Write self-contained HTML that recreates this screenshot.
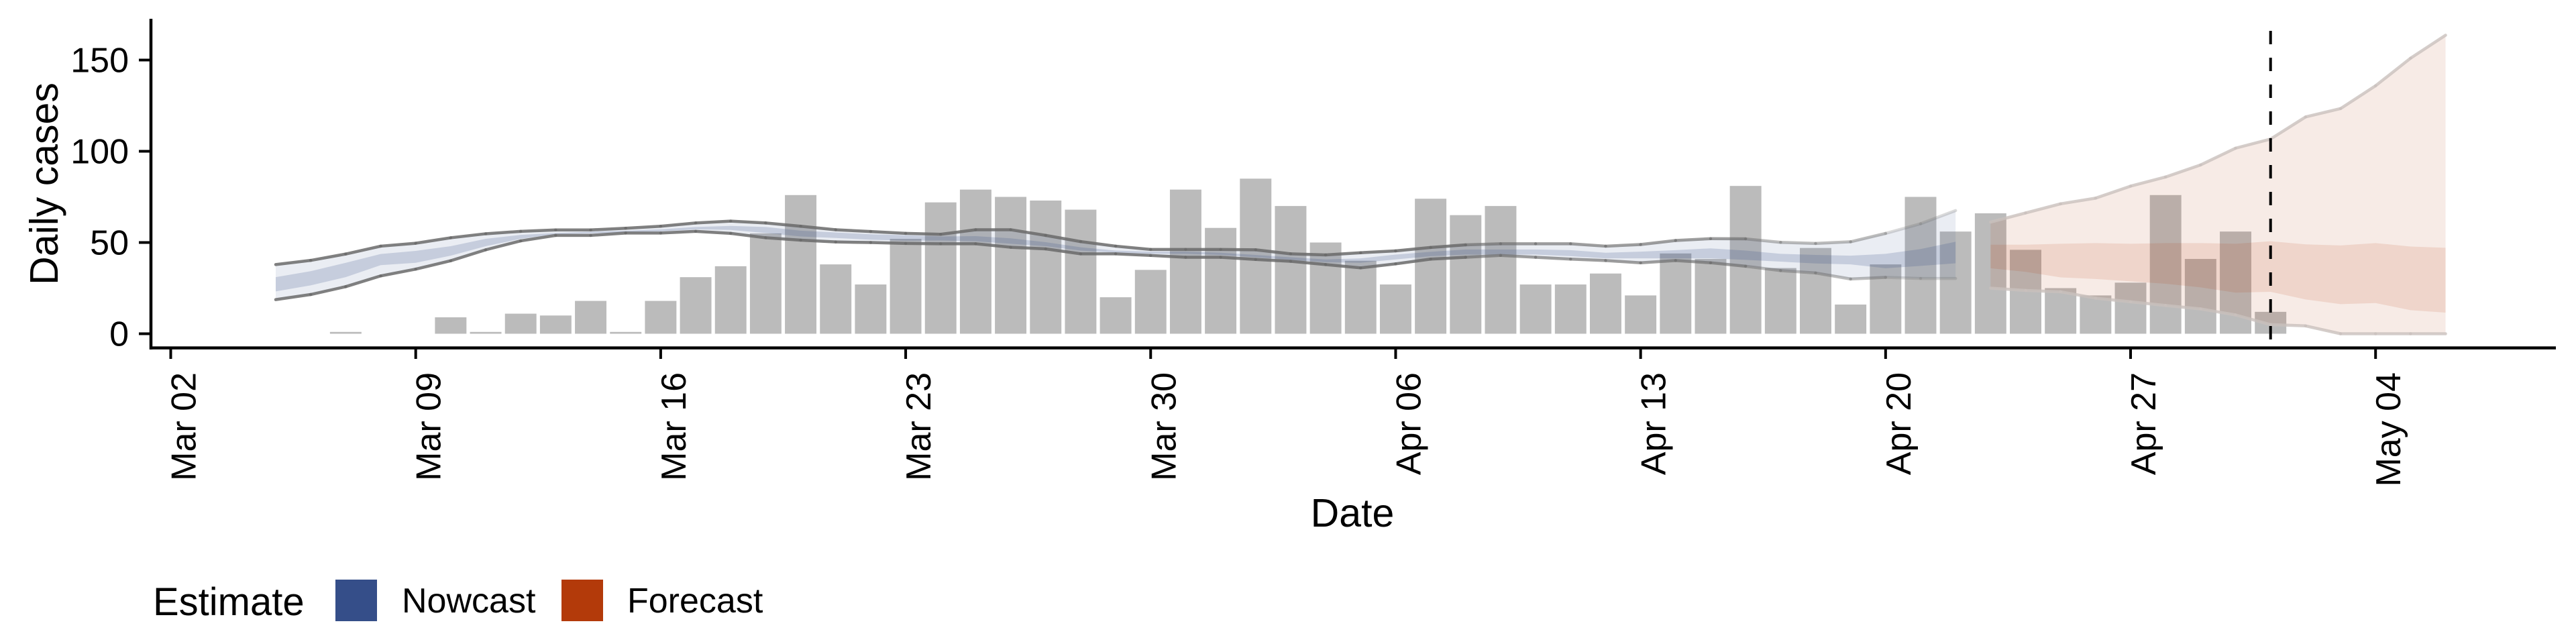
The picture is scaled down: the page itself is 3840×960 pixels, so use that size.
<!DOCTYPE html>
<html><head><meta charset="utf-8"><style>
html,body{margin:0;padding:0;background:#fff;}
svg{display:block;font-family:"Liberation Sans",Arial,sans-serif;}
</style></head><body>
<svg id="chart" width="3840" height="960" viewBox="0 0 3840 960" xmlns="http://www.w3.org/2000/svg">
<rect x="0" y="0" width="3840" height="960" fill="#fff"/>
<g id="bars"></g>
<g id="bands"></g>
<g id="lines"></g>
<g id="axes"></g>
<text x="86" y="274" transform="rotate(-90 86 274)" text-anchor="middle" font-size="59">Daily cases</text>
<text x="2016" y="785" text-anchor="middle" font-size="59">Date</text>
<g>
<text x="228" y="917" font-size="58">Estimate</text>
<rect x="500" y="864" width="62" height="62" fill="#354E89"/>
<text x="599" y="913" font-size="52">Nowcast</text>
<rect x="837" y="864" width="62" height="62" fill="#B33A0A"/>
<text x="935" y="913" font-size="52">Forecast</text>
</g>
</svg>
<script>
// day index = days since Mar 02
const barStart = 5;
const barValues = [1,0,0,9,1,11,10,18,1,18,31,37,55,76,38,27,52,72,
79,75,73,68,20,35,79,58,85,70,50,40,27,74,65,70,27,27,33,21,44,41,81,36,47,16,
38,75,56,66,46,25,21,28,76,41,56,12];
const nowStart = 3;
const nowUpper = [37.9,40.2,43.7,48,49.6,52.6,54.8,56.1,56.9,56.9,57.8,58.9,60.7,61.7,60.7,58.9,57,56,55,54.5,
57,57,53.9,50.5,48,46.2,46.2,46.2,46,43.8,43.2,44.4,45.4,47.3,48.7,49.3,49.3,49.3,48,48.9,51.1,52.1,52,50.1,
49.5,50.4,55,60.3,67.5];
const nowLower = [18.7,21.5,25.8,31.7,35.4,40,46,50.9,53.9,53.9,55.2,55.2,56.1,55,52.6,51.3,50.3,50,49.5,49.3,
49.3,47.4,46.5,43.8,43.8,42.9,41.9,41.9,40.7,39.7,37.9,36.1,38.3,40.9,41.9,42.9,41.9,40.9,40.1,38.9,40.1,38.9,37,34.6,
33.3,30,30.9,30.3,30.3];
const nowInnerUpper = [31,34.3,38.9,43.7,45.4,48,52,54.2,55.2,55.9,56.5,57.2,58.5,59.1,58.5,56.5,55.5,54.5,54,53.3,
53.5,52.3,50.2,47.4,45.6,45,45,44.4,43.2,41.9,40.7,41.3,43.4,44.9,46.2,46.2,46.2,45.8,44.4,45,45.8,46.8,45.6,43.8,
43.2,42.8,43.8,46.4,50.4];
const nowInnerLower = [23.2,26.5,31,37.6,38.9,42.8,48,52,54.6,55,55.5,56.1,57.2,56.9,55.2,53.3,52.5,51.5,51,51.1,
50.7,49.3,48,45.6,44.4,43.8,43.8,43.2,41.9,40.5,39.2,38.9,40.7,42.5,43.4,43.4,43.4,42.5,41.3,41.3,41.3,41.3,40.5,39.5,
38.5,38,35.9,37.2,38.6];
const foreStart = 52;
const foreUpper = [61.2,66.2,71.2,74.3,80.9,85.9,92.5,101.7,106.7,118.8,123.4,135.9,151,163.6];
const foreLower = [25,23.7,23,19.5,17.5,15.5,13.6,10.3,5,4.3,0,0,0,0];
const foreInnerUpper = [48.8,48.8,49.3,49.7,49.3,49.7,49.7,49.3,50.7,49,48.4,49.7,47.8,47.1];
const foreInnerLower = [35.9,33.9,30.9,30,28.7,27.4,25.4,22.5,23,18.8,16.2,16.8,12.9,11.6];
const yTicks = [0,50,100,150];
const xTickLabels = ["Mar 02","Mar 09","Mar 16","Mar 23","Mar 30","Apr 06","Apr 13","Apr 20","Apr 27","May 04"];
const forecastDateDay = 60;

const NS = "http://www.w3.org/2000/svg";
const X0 = 254.5, DAY = 52.17, Y0 = 497.5, UNIT = 2.72;
const x = d => X0 + d * DAY;
const y = v => Y0 - v * UNIT;
function mk(tag, attrs, parent) {
  const e = document.createElementNS(NS, tag);
  for (const k in attrs) e.setAttribute(k, attrs[k]);
  parent.appendChild(e);
  return e;
}
const gBars = document.getElementById('bars');
barValues.forEach((v, i) => {
  const d = barStart + i;
  if (v <= 0) return;
  const w = DAY * 0.9;
  const r = mk('rect', {x: x(d) - w / 2, y: y(v), width: w, height: Math.max(0.5, v * UNIT), fill: '#BBBBBB'}, gBars);
  
  
});
const gBands = document.getElementById('bands');
function band(start, up, lo, color, op, name) {
  let pts = up.map((v, i) => x(start + i) + ',' + y(v));
  for (let i = lo.length - 1; i >= 0; i--) pts.push(x(start + i) + ',' + y(lo[i]));
  const p = mk('polygon', {points: pts.join(' '), fill: color, 'fill-opacity': op}, gBands);
  
  
}
band(nowStart, nowUpper, nowLower, 'rgb(53,78,137)', 0.1, 'nowcast-band-90');
band(nowStart, nowInnerUpper, nowInnerLower, 'rgb(53,78,137)', 0.2, 'nowcast-band-50');
band(foreStart, foreUpper, foreLower, 'rgb(180,58,10)', 0.1, 'forecast-band-90');
band(foreStart, foreInnerUpper, foreInnerLower, 'rgb(180,58,10)', 0.12, 'forecast-band-50');
const gLines = document.getElementById('lines');
function line(start, vals, name, fade) {
  for (let i = 0; i < vals.length - 1; i++) {
    const d = start + i;
    let color = '#6a6a6a', op = 0.85;
    if (fade) { color = '#c9c1bd'; op = 0.8; }
    else if (d >= 49) op = 0.25;
    else if (d >= 45) op = 0.45;
    else if (d >= 37) op = 0.65;
    const l = mk('line', {x1: x(d), y1: y(vals[i]), x2: x(d + 1), y2: y(vals[i + 1]), stroke: color, 'stroke-opacity': op, 'stroke-width': 4.5, 'stroke-linecap': 'round'}, gLines);
    
    
  }
}
line(nowStart, nowUpper, 'nowcast-upper-line', false);
line(nowStart, nowLower, 'nowcast-lower-line', false);
line(foreStart, foreUpper, 'forecast-upper-line', true);
line(foreStart, foreLower, 'forecast-lower-line', true);

const gAxes = document.getElementById('axes');
const vl = mk('line', {x1: x(forecastDateDay), y1: 46, x2: x(forecastDateDay), y2: 518, stroke: '#000', 'stroke-width': 4, 'stroke-dasharray': '20,20'}, gAxes);


const ya = mk('line', {x1: 225, y1: 28, x2: 225, y2: 521, stroke: '#000', 'stroke-width': 4.5}, gAxes);


const xa = mk('line', {x1: 223, y1: 518.6, x2: 3810, y2: 518.6, stroke: '#000', 'stroke-width': 4.5}, gAxes);


yTicks.forEach(v => {
  const t = mk('line', {x1: 207, y1: y(v), x2: 225, y2: y(v), stroke: '#000', 'stroke-width': 4}, gAxes);
  
  
  const tx = mk('text', {x: 192, y: y(v) + 18, 'text-anchor': 'end', 'font-size': 52}, gAxes);
  tx.textContent = String(v);
  
  
});
xTickLabels.forEach((lab, i) => {
  const d = i * 7;
  const t = mk('line', {x1: x(d), y1: 518, x2: x(d), y2: 535, stroke: '#000', 'stroke-width': 4}, gAxes);
  
  
  const tx0 = x(d) + 37, ty0 = 555;
  const tx = mk('text', {x: tx0, y: ty0, 'text-anchor': 'end', 'font-size': 52, transform: 'rotate(-90 ' + tx0 + ' ' + ty0 + ')'}, gAxes);
  tx.textContent = lab;
  
  
});
</script>
</body></html>
